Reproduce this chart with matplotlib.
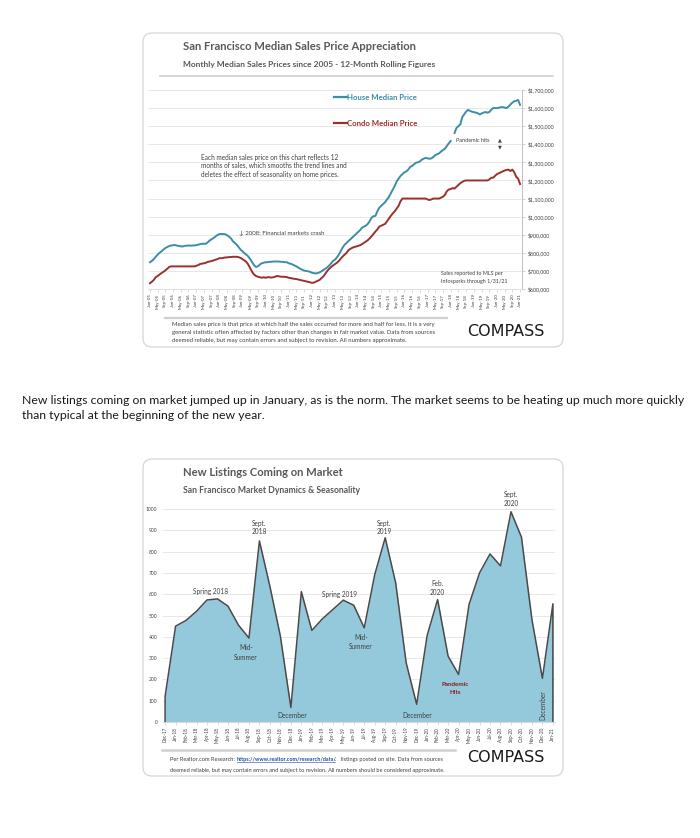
import matplotlib
matplotlib.use('Agg')
import matplotlib.pyplot as plt
import numpy as np
from matplotlib.patches import FancyBboxPatch
from matplotlib.lines import Line2D
import matplotlib.ticker as mticker

# ---------------- DATA ----------------
# Chart 1: monthly median sales prices (thousands of $), Jan-2005 .. Jan-2021
nan = np.nan
house_k = [
    748, 755, 765, 778, 790, 800, 808, 818, 826, 832, 838, 840,          # 2005
    842, 843, 840, 838, 836, 835, 838, 840, 840, 840, 840, 841,          # 2006
    842, 845, 848, 850, 850, 850, 858, 868, 875, 882, 890, 898,          # 2007
    903, 904, 904, 903, 897, 890, 880, 865, 855, 845, 832, 818,          # 2008
    808, 798, 790, 780, 765, 748, 732, 722, 725, 735, 742, 745,          # 2009
    748, 748, 750, 750, 752, 752, 752, 752, 750, 750, 748, 748,          # 2010
    742, 740, 735, 730, 725, 718, 712, 706, 702, 700, 698, 695,          # 2011
    690, 688, 686, 688, 692, 698, 705, 712, 720, 730, 742, 755,          # 2012
    762, 775, 790, 810, 830, 845, 855, 865, 875, 885, 895, 905,          # 2013
    915, 925, 938, 945, 950, 960, 975, 995, 1002, 1005, 1030, 1050,      # 2014
    1060, 1070, 1080, 1095, 1110, 1130, 1150, 1170, 1195, 1210, 1225, 1235,  # 2015
    1245, 1250, 1260, 1275, 1280, 1290, 1298, 1300, 1305, 1315, 1320, 1325,  # 2016
    1322, 1320, 1322, 1330, 1340, 1345, 1350, 1360, 1368, 1375, 1390, 1405,  # 2017
    1418, nan, 1462, 1490, 1500, 1510, 1550, 1565, 1580, 1590, 1585, 1580,   # 2018
    1578, 1575, 1572, 1565, 1570, 1575, 1578, 1575, 1578, 1590, 1600, 1600,  # 2019
    1600, 1602, 1605, 1605, 1603, 1600, 1608, 1620, 1630, 1638, 1640, 1645,  # 2020
    1618,                                                                    # 2021
]
condo_k = [
    632, 640, 650, 665, 672, 680, 688, 695, 703, 712, 722, 725,          # 2005
    725, 725, 725, 725, 725, 725, 725, 725, 725, 725, 725, 725,          # 2006
    728, 732, 738, 740, 742, 745, 750, 752, 755, 758, 762, 765,          # 2007
    770, 770, 772, 774, 775, 776, 777, 778, 778, 778, 776, 772,          # 2008
    765, 758, 750, 735, 715, 695, 680, 672, 668, 665, 662, 665,          # 2009
    662, 665, 665, 663, 665, 668, 672, 670, 668, 668, 667, 666,          # 2010
    662, 660, 658, 656, 655, 652, 650, 647, 645, 642, 640, 637,          # 2011
    634, 635, 640, 645, 650, 660, 670, 685, 700, 712, 722, 730,          # 2012
    738, 745, 755, 768, 780, 790, 800, 815, 822, 828, 832, 835,          # 2013
    838, 842, 848, 855, 862, 870, 880, 892, 905, 918, 930, 945,          # 2014
    950, 955, 960, 975, 990, 1005, 1018, 1030, 1045, 1060, 1085, 1100,   # 2015
    1100, 1100, 1100, 1100, 1100, 1100, 1100, 1100, 1100, 1100, 1100, 1100,  # 2016
    1095, 1092, 1095, 1100, 1100, 1100, 1100, 1105, 1110, 1120, 1140, 1150,  # 2017
    1152, 1158, 1155, 1165, 1175, 1185, 1192, 1198, 1200, 1200, 1200, 1200,  # 2018
    1200, 1200, 1200, 1200, 1200, 1200, 1200, 1200, 1205, 1215, 1215, 1225,  # 2019
    1235, 1240, 1245, 1250, 1255, 1258, 1260, 1252, 1260, 1245, 1220, 1210,  # 2020
    1180,                                                                    # 2021
]
price_tick_months = ['Jan', 'May', 'Sep']
price_years = list(range(5, 22))
price_tick_labels = [f"{m}-{y:02d}" for y in price_years for m in price_tick_months][:49]

# Chart 2: new listings per month, Dec-17 .. Jan-21
listing_labels = ['Dec-17', 'Jan-18', 'Feb-18', 'Mar-18', 'Apr-18', 'May-18', 'Jun-18', 'Jul-18',
                  'Aug-18', 'Sep-18', 'Oct-18', 'Nov-18', 'Dec-18', 'Jan-19', 'Feb-19', 'Mar-19',
                  'Apr-19', 'May-19', 'Jun-19', 'Jul-19', 'Aug-19', 'Sep-19', 'Oct-19', 'Nov-19',
                  'Dec-19', 'Jan-20', 'Feb-20', 'Mar-20', 'Apr-20', 'May-20', 'Jun-20', 'Jul-20',
                  'Aug-20', 'Sep-20', 'Oct-20', 'Nov-20', 'Dec-20', 'Jan-21']
listings = [120, 450, 477, 520, 573, 578, 544, 455, 394, 850, 637, 403, 68, 612, 430, 484,
            528, 572, 548, 442, 692, 865, 653, 278, 83, 406, 575, 309, 223, 552, 700, 789,
            733, 987, 868, 481, 205, 555]

# ---------------- FIGURE ----------------
W, H = 700, 838
fig = plt.figure(figsize=(W / 100, H / 100), dpi=100)
fig.patch.set_facecolor('white')
FONT = ['Lato', 'DejaVu Sans']
GRAY = '#595959'
TEAL = '#3a8ea6'
RED = '#9c302b'


def fx(x):
    return x / W


def fy(y):
    return 1 - y / H


def txt(x, y, s, size, color='#404040', weight='normal', ha='left', va='center', family=None, **kw):
    fig.text(fx(x), fy(y), s, fontsize=size, color=color, fontweight=weight, ha=ha, va=va,
             family=family or FONT, **kw)


def panel(x0, y0, x1, y1):
    p = FancyBboxPatch((x0 / 100, (H - y1) / 100), (x1 - x0) / 100, (y1 - y0) / 100,
                       boxstyle='round,pad=0,rounding_size=0.09', transform=fig.dpi_scale_trans,
                       fc='white', ec='#d6d6d6', lw=0.9, zorder=0)
    fig.add_artist(p)


def hline(x0, x1, y, color='#d0d0d0', lw=1.2):
    fig.add_artist(Line2D([fx(x0), fx(x1)], [fy(y), fy(y)], color=color, lw=lw,
                          transform=fig.transFigure, zorder=1))


# ================= Chart 1 =================
panel(143, 33, 563, 347)
txt(183, 47, 'San Francisco Median Sales Price Appreciation', 8.1, color=GRAY, weight='bold')
txt(183, 65, 'Monthly Median Sales Prices since 2005 - 12-Month Rolling Figures', 6.0, color=GRAY, weight='bold')
hline(160, 553, 76)

ax1 = fig.add_axes([fx(148), fy(289), (522 - 148) / W, (289 - 90) / H], zorder=2)
ax1.set_facecolor('none')
months = np.arange(len(house_k))
ax1.plot(months, np.array(house_k) * 1000, color=TEAL, lw=1.4)
ax1.plot(months, np.array(condo_k) * 1000, color=RED, lw=1.4)
ax1.set_xlim(-1, 193)
ax1.set_ylim(600000, 1700000)
ax1.yaxis.tick_right()
ax1.set_yticks(np.arange(600000, 1700001, 100000))
ax1.yaxis.set_major_formatter(mticker.FuncFormatter(lambda v, p: f"${v:,.0f}"))
ax1.set_xticks(months[::4])
ax1.set_xticklabels(price_tick_labels, rotation=90)
ax1.grid(axis='y', color='#e4e4e4', lw=0.6)
ax1.set_axisbelow(True)
for s in ['top', 'left']:
    ax1.spines[s].set_visible(False)
ax1.spines['right'].set_color('#bfbfbf')
ax1.spines['bottom'].set_color('#d9d9d9')
ax1.spines['right'].set_linewidth(0.7)
ax1.spines['bottom'].set_linewidth(0.6)
ax1.tick_params(axis='y', length=2, width=0.5, color='#bfbfbf', labelsize=3.8, labelcolor='#404040', pad=2)
ax1.tick_params(axis='x', length=2, width=0.4, color='#bfbfbf', labelsize=3.2, labelcolor='#404040', pad=1.5)
for lab in ax1.get_xticklabels() + ax1.get_yticklabels():
    lab.set_family(FONT)

# legend-like labels
fig.add_artist(Line2D([fx(334), fx(347)], [fy(97), fy(97)], color=TEAL, lw=1.6, transform=fig.transFigure, zorder=3))
txt(347, 97, 'House Median Price', 5.6, color=TEAL, weight='bold')
fig.add_artist(Line2D([fx(334), fx(347)], [fy(123), fy(123)], color=RED, lw=1.6, transform=fig.transFigure, zorder=3))
txt(347, 123, 'Condo Median Price', 5.6, color=RED, weight='bold')

txt(456, 141, 'Pandemic hits', 4.0, color='#404040')
txt(500, 140, '▲', 3.6, color='#404040', ha='center', family=['DejaVu Sans'])
txt(500, 147, '▼', 3.6, color='#404040', ha='center', family=['DejaVu Sans'])

for i, line in enumerate(['Each median sales price on this chart reflects 12',
                          'months of sales, which smooths the trend lines and',
                          'deletes the effect of seasonality on home prices.']):
    txt(201, 157 + i * 8.5, line, 4.7)
txt(239, 233, '↓ 2008: Financial markets crash', 4.4)
txt(441, 274, 'Sales reported to MLS per', 3.9)
txt(441, 281, 'Infosparks through 1/31/21', 3.9)

hline(165, 447, 318, color='#d0d0d0', lw=1.6)
for i, line in enumerate(['Median sales price is that price at which half the sales occurred for more and half for less. It is a very',
                          'general statistic often affected by factors other than changes in fair market value. Data from sources',
                          'deemed reliable, but may contain errors and subject to revision. All numbers approximate.']):
    txt(172, 324 + i * 8, line, 4.3)
txt(506, 331, 'COMPASS', 11.5, color='#1a1a1a', ha='center', family=['DejaVu Sans'])

# ================= Paragraph =================
txt(22, 400, 'New listings coming on market jumped up in January, as is the norm. The market seems to be heating up much more quickly', 8.8, color='#1a1a1a')
txt(22, 415, 'than typical at the beginning of the new year.', 8.8, color='#1a1a1a')

# ================= Chart 2 =================
panel(143, 459, 563, 776)
txt(183, 472, 'New Listings Coming on Market', 8.1, color=GRAY, weight='bold')
txt(183, 490, 'San Francisco Market Dynamics & Seasonality', 6.2, color=GRAY, weight='bold')

ax2 = fig.add_axes([fx(163), fy(722), (555 - 163) / W, (722 - 509) / H], zorder=2)
ax2.set_facecolor('none')
idx = np.arange(len(listings))
ax2.fill_between(idx, listings, 0, color='#93c9db', lw=0)
ax2.plot(np.r_[idx[0], idx, idx[-1]], np.r_[0, listings, 0], color='#4a4a4a', lw=1.1)
ax2.set_xlim(-0.2, 37.2)
ax2.set_ylim(0, 1000)
ax2.set_yticks(np.arange(0, 1001, 100))
ax2.set_xticks(idx)
ax2.set_xticklabels(listing_labels, rotation=90)
ax2.grid(axis='y', color='#e4e4e4', lw=0.6)
ax2.set_axisbelow(True)
for s in ['top', 'left', 'right']:
    ax2.spines[s].set_visible(False)
ax2.spines['bottom'].set_color('#d9d9d9')
ax2.tick_params(axis='y', length=0, labelsize=3.6, labelcolor='#404040', pad=4)
ax2.tick_params(axis='x', length=2, width=0.4, color='#bfbfbf', labelsize=3.3, labelcolor='#404040', pad=1.5)
for lab in ax2.get_xticklabels() + ax2.get_yticklabels():
    lab.set_family(FONT)

ann = dict(size=4.7, color='#404040', ha='center')
txt(211, 591, 'Spring 2018', **ann)
txt(246, 648, 'Mid-', **ann)
txt(246, 657, 'Summer', **ann)
txt(259, 523, 'Sept.', **ann)
txt(259, 532, '2018', **ann)
txt(292, 715, 'December', **ann)
txt(339, 594, 'Spring 2019', **ann)
txt(361, 637, 'Mid-', **ann)
txt(361, 646, 'Summer', **ann)
txt(384, 523, 'Sept.', **ann)
txt(384, 532, '2019', **ann)
txt(417, 715, 'December', **ann)
txt(437, 583, 'Feb.', **ann)
txt(437, 592, '2020', **ann)
txt(455, 684, 'Pandemic', size=4.5, color='#8b1a1a', ha='center', weight='bold')
txt(455, 692, 'Hits', size=4.5, color='#8b1a1a', ha='center', weight='bold')
txt(511, 494, 'Sept.', **ann)
txt(511, 503, '2020', **ann)
txt(543, 705, 'December', size=4.7, color='#404040', ha='center', rotation=90)

hline(162, 455, 750, color='#d0d0d0', lw=1.8)
txt(170, 759, 'Per Realtor.com Research:', 4.05)
txt(237, 759, 'https://www.realtor.com/research/data/', 3.85, color='#1f4e9c', weight='bold')
fig.add_artist(Line2D([fx(237), fx(335)], [fy(762), fy(762)], color='#1f4e9c', lw=0.4, transform=fig.transFigure))
txt(335, 759, '.', 4.05)
txt(341, 759, 'listings posted on site. Data from sources', 4.05)
txt(170, 770, 'deemed reliable, but may contain errors and subject to revision. All numbers should be considered approximate.', 4.05)
txt(506, 757, 'COMPASS', 11.5, color='#1a1a1a', ha='center', family=['DejaVu Sans'])

fig.savefig('out.png', dpi=100, facecolor='white')
